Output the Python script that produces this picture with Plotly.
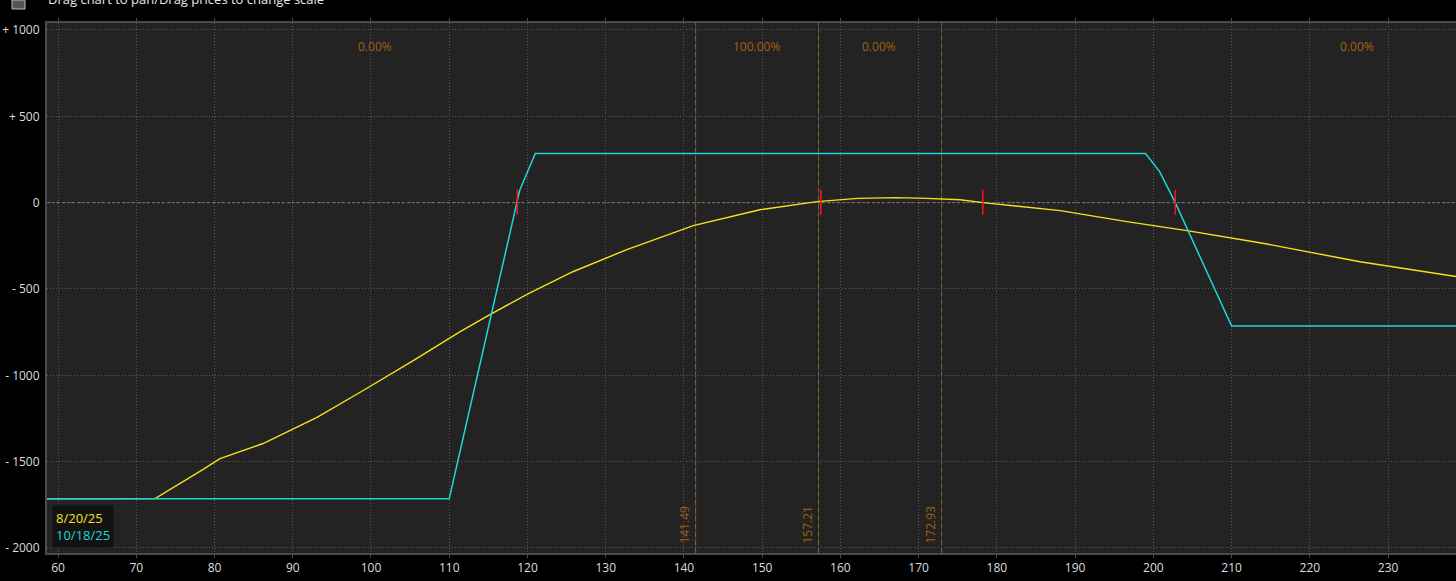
import plotly.graph_objects as go

# ---------------- data ----------------
exp_x = [58.6, 110.0, 119.0, 121.0, 199.0, 200.8, 202.8, 210.0, 238.7]
exp_y = [-1715, -1715, 70, 285, 285, 180, 0, -715, -715]

t0_x = [58.6, 72.4, 78.5, 80.7, 86.2, 93.1, 99.0, 105.4, 111.4, 115.2, 120.0,
        125.8, 132.7, 141.2, 149.7, 157.0, 162.2, 167.0, 171.1, 175.3, 178.2,
        188.1, 196.6, 204.3, 213.6, 226.4, 238.7]
t0_y = [-1715, -1714, -1546, -1482, -1395, -1244, -1088, -915, -747, -648, -530,
        -400, -272, -133, -41, 6, 25, 29, 25, 17, 0,
        -46, -110, -162, -232, -342, -428]

breakevens = [118.7, 157.5, 178.2, 202.8]
price_levels = [141.49, 157.21, 172.93]
price_labels = ["141.49", "157.21", "172.93"]
prob_x = [100.5, 149.3, 164.9, 226.0]
prob_labels = ["0.00%", "100.00%", "0.00%", "0.00%"]

x_ticks = list(range(60, 240, 10))
y_ticks = [1000, 500, 0, -500, -1000, -1500, -2000]
y_tick_text = ["+ 1000", "+ 500", "0", "- 500", "- 1000", "- 1500", "- 2000"]

series_names = ["8/20/25", "10/18/25"]

X_RANGE = [58.59, 238.68]
Y_RANGE = [-2029, 1040.5]

YELLOW = "#f5e21c"
CYAN = "#1fd6de"
ORANGE = "#a0620f"
FONT = "Open Sans"

fig = go.Figure()

# vertical price level lines (blue under, orange dashes on top)
for p in price_levels:
    fig.add_shape(type="line", x0=p, x1=p, y0=0, y1=1, xref="x", yref="paper",
                  line=dict(color="#2d4660", width=1), layer="below")
    fig.add_shape(type="line", x0=p, x1=p, y0=0, y1=1, xref="x", yref="paper",
                  line=dict(color="#9a5c14", width=1, dash="5px,3px"), layer="below")

# zero line dashed
fig.add_shape(type="line", x0=0, x1=1, xref="paper", y0=0, y1=0, yref="y",
              line=dict(color="#808080", width=1, dash="3px,2px"), layer="below")

# series
fig.add_trace(go.Scatter(x=t0_x, y=t0_y, mode="lines", name=series_names[0],
                         line=dict(color=YELLOW, width=1.4)))
fig.add_trace(go.Scatter(x=exp_x, y=exp_y, mode="lines", name=series_names[1],
                         line=dict(color=CYAN, width=1.5)))

# breakeven markers
bx, by = [], []
for b in breakevens:
    bx += [b, b, None]
    by += [-70, 75, None]
fig.add_trace(go.Scatter(x=bx, y=by, mode="lines", showlegend=False,
                         line=dict(color="#ff1414", width=1.5)))

# probability labels
for xv, t in zip(prob_x, prob_labels):
    fig.add_annotation(x=xv, y=1 - (46 - 23) / 530, xref="x", yref="paper",
                       yanchor="middle", text=t, showarrow=False,
                       font=dict(color=ORANGE, size=12, family=FONT))

# rotated price labels
for p, t in zip(price_levels, price_labels):
    fig.add_annotation(x=p, y=(553 - 525) / 530, xref="x", yref="paper",
                       yanchor="middle", xanchor="center",
                       text=t, textangle=-90, showarrow=False, xshift=-12,
                       font=dict(color=ORANGE, size=12, family=FONT))

# legend box
fig.add_annotation(x=(52 - 47) / 1409, y=(553 - 548) / 530, xref="paper", yref="paper",
                   xanchor="left", yanchor="bottom", align="left", showarrow=False,
                   text=f"<span style='color:{YELLOW}'>{series_names[0]}</span><br>"
                        f"<span style='color:{CYAN}'>{series_names[1]}</span>",
                   bgcolor="#121212", borderpad=3,
                   font=dict(size=13, family=FONT))

# header text (cut off at top, as in the reference)
fig.add_annotation(x=(46 - 47) / 1409, y=1, xref="paper", yref="paper",
                   xanchor="left", yanchor="bottom", yshift=13, showarrow=False,
                   text="Drag chart to pan/Drag prices to change scale",
                   font=dict(size=13, color="#e8e8e8", family=FONT))
fig.add_shape(type="rect", xref="paper", yref="paper",
              x0=(12 - 47) / 1409, x1=(25 - 47) / 1409,
              y0=1 + (23 - 9) / 530, y1=1 + 23 / 530,
              line=dict(color="#bbbbbb", width=1), fillcolor="#555555")

fig.update_layout(
    width=1456, height=581,
    margin=dict(l=47, r=0, t=23, b=28, autoexpand=False),
    paper_bgcolor="#000000", plot_bgcolor="#232323",
    showlegend=False,
    font=dict(family=FONT, size=12, color="#dddddd"),
    xaxis=dict(range=X_RANGE, tickvals=x_ticks, showgrid=True, automargin=False,
               gridcolor="#5a5a5a", griddash="1px,2px", gridwidth=1,
               zeroline=False, showline=True, linecolor="#4a4a4a", linewidth=2,
               mirror="ticks", ticks="outside", ticklen=3, tickcolor="#4a4a4a",
               tickfont=dict(color="#dddddd", size=12)),
    yaxis=dict(range=Y_RANGE, tickvals=y_ticks, ticktext=y_tick_text, automargin=False,
               showgrid=True, gridcolor="#5a5a5a", griddash="1px,2px", gridwidth=1,
               zeroline=False, showline=True, linecolor="#4a4a4a", linewidth=2,
               mirror=True, ticks="", ticklabelstandoff=3,
               tickfont=dict(color="#dddddd", size=12)),
)

fig.write_html("out.html", config={"displayModeBar": False},
               post_script="document.body.style.margin='0';document.body.style.overflow='hidden';")
